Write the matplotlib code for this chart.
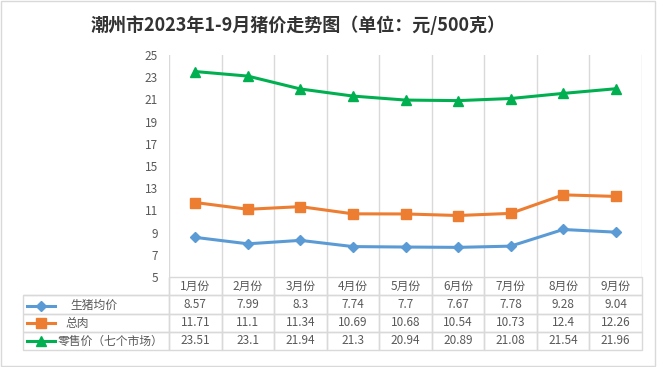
import numpy as np
import matplotlib
matplotlib.use('Agg')
import matplotlib.pyplot as plt
from matplotlib.lines import Line2D
from matplotlib.patches import Rectangle

plt.rcParams['font.family'] = ['Noto Sans CJK SC', 'DejaVu Sans']

# 数据
months = ['1月份', '2月份', '3月份', '4月份', '5月份', '6月份', '7月份', '8月份', '9月份']
series_names = ['生猪均价', '总肉', '零售价（七个市场）']
pig_price = [8.57, 7.99, 8.3, 7.74, 7.7, 7.67, 7.78, 9.28, 9.04]
meat_price = [11.71, 11.1, 11.34, 10.69, 10.68, 10.54, 10.73, 12.4, 12.26]
retail_price = [23.51, 23.1, 21.94, 21.3, 20.94, 20.89, 21.08, 21.54, 21.96]
yticks = list(range(5, 26, 2))
title = '潮州市2023年1-9月猪价走势图（单位：元/500克）'

colors = ['#5B9BD5', '#ED7D31', '#00B050']
markers = ['D', 's', '^']
msizes = [5, 7, 7]
txt_color = '#595959'
grid_color = '#D9D9D9'

W, H = 658, 367
fig = plt.figure(figsize=(W / 100, H / 100), dpi=100)
fig.add_artist(Rectangle((0.002, 0.003), 0.994, 0.994, transform=fig.transFigure,
                         fill=False, edgecolor=grid_color, lw=1))

# 绘图区 (像素坐标换算)
left, right, top, bottom = 169, 642, 55, 277
ax = fig.add_axes([left / W, 1 - bottom / H, (right - left) / W, (bottom - top) / H])

x = np.arange(len(months))
all_series = [pig_price, meat_price, retail_price]
for vals, c, m, ms in zip(all_series, colors, markers, msizes):
    ax.plot(x, vals, color=c, lw=2.2, marker=m, markersize=ms, zorder=3)

ax.set_xlim(-0.5, len(months) - 0.5)
ax.set_ylim(5, 25)
ax.set_yticks(yticks)
ax.set_xticks(np.arange(-0.5, len(months), 1))
ax.set_xticklabels([])
ax.tick_params(axis='both', length=0, labelsize=8.5, labelcolor=txt_color, pad=8)
ax.grid(axis='x', color=grid_color, lw=1)
for s in ax.spines.values():
    s.set_visible(False)

# 数据表
px = lambda p: (p - left) / (right - left)   # 横向像素 -> 轴坐标
py = lambda p: (bottom - p) / (bottom - top)  # 纵向像素 -> 轴坐标
lab_w = px(left) - px(23)
cell_text = [[''] + [str(v) for v in vals] for vals in all_series]
tbl = ax.table(cellText=cell_text, colLabels=[''] + months,
               colWidths=[lab_w] + [1 / len(months)] * len(months),
               cellLoc='center',
               bbox=[-lab_w, py(350), 1 + lab_w, py(277) - py(350)])
tbl.auto_set_font_size(False)
for (r, c), cell in tbl.get_celld().items():
    cell.set_facecolor('none')
    cell.set_edgecolor(grid_color)
    cell.set_linewidth(1)
    cell.get_text().set_color(txt_color)
    cell.get_text().set_fontsize(8.5)
    if r == 0 and c == 0:
        cell.visible_edges = 'BR'

# 图例标识 + 行名
row_y = [(297 + 314) / 2, (314 + 332) / 2, (332 + 350) / 2]
label_x = [70, 65, 58]
for name, c, m, ms, yy, lx in zip(series_names, colors, markers, msizes, row_y, label_x):
    ax.add_line(Line2D([px(27), px(55)], [py(yy), py(yy)], transform=ax.transAxes,
                       color=c, lw=2.2, clip_on=False))
    ax.add_line(Line2D([px(41)], [py(yy)], transform=ax.transAxes, color=c,
                       marker=m, markersize=ms, clip_on=False))
    ax.text(px(lx), py(yy), name, transform=ax.transAxes, ha='left', va='center',
            fontsize=8.5, color=txt_color)

fig.text(298 / W, 1 - 25 / H, title, ha='center', va='center',
         fontsize=13, fontweight='bold', color='#333333')

fig.savefig('out.png', dpi=100)
